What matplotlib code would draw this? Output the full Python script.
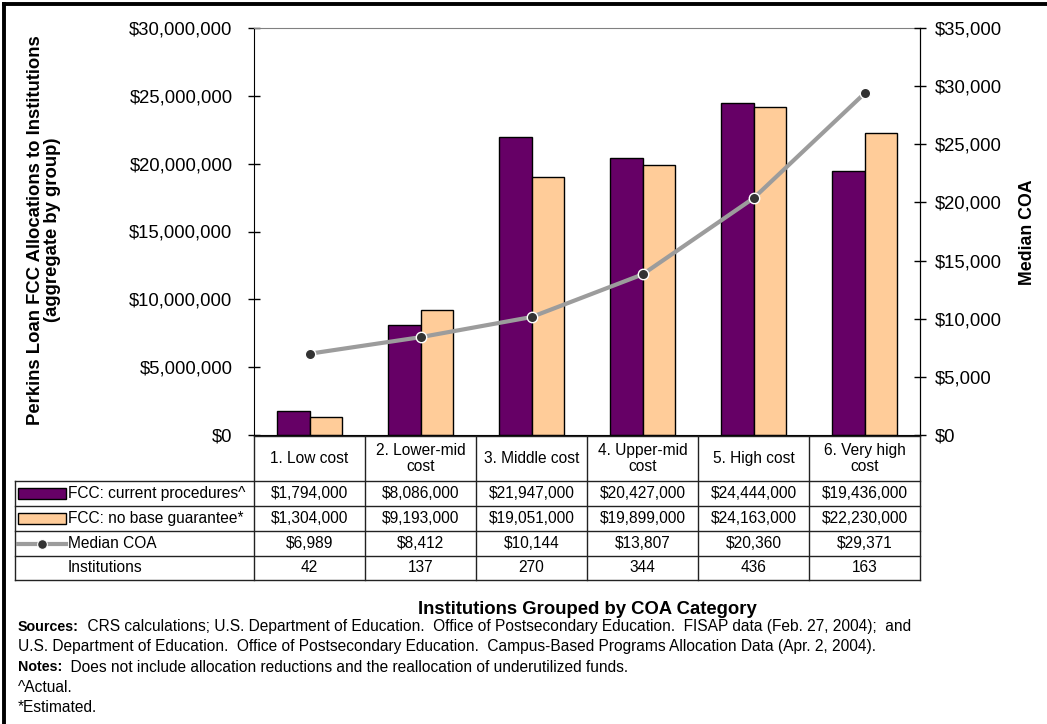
import numpy as np
import matplotlib
matplotlib.use("Agg")
from matplotlib import pyplot as plt
from matplotlib.lines import Line2D
from matplotlib.patches import Rectangle
from matplotlib.ticker import FuncFormatter

plt.rcParams['font.family'] = ['Liberation Sans', 'DejaVu Sans']

categories = ["1. Low cost", "2. Lower-mid\ncost", "3. Middle cost",
              "4. Upper-mid\ncost", "5. High cost", "6. Very high\ncost"]
fcc_current = [1794000, 8086000, 21947000, 20427000, 24444000, 19436000]
fcc_no_base = [1304000, 9193000, 19051000, 19899000, 24163000, 22230000]
median_coa = [6989, 8412, 10144, 13807, 20360, 29371]
institutions = [42, 137, 270, 344, 436, 163]

series_names = ["FCC: current procedures^", "FCC: no base guarantee*", "Median COA", "Institutions"]

PURPLE = '#660066'
PEACH = '#FFCC99'
LINE_GRAY = '#9c9c9c'
DOT = '#333333'

W, H = 1047, 724
fig = plt.figure(figsize=(W / 100, H / 100), dpi=100)


def box(x0, y0, x1, y1):
    # pixel box measured from the top-left corner -> figure fraction rect
    return [x0 / W, 1 - y1 / H, (x1 - x0) / W, (y1 - y0) / H]


money = FuncFormatter(lambda v, p: f"${v:,.0f}")

# ---- main chart ----
ax = fig.add_axes(box(254, 28, 920, 435))
x = np.arange(len(categories))
bw = 0.295
ax.bar(x - bw / 2, fcc_current, bw, color=PURPLE, edgecolor='black', linewidth=1, zorder=2)
ax.bar(x + bw / 2, fcc_no_base, bw, color=PEACH, edgecolor='black', linewidth=1, zorder=2)
ax.set_xlim(-0.5, 5.5)
ax.set_ylim(0, 30e6)
ax.set_yticks(np.arange(0, 30e6 + 1, 5e6))
ax.yaxis.set_major_formatter(money)
ax.set_xticks([])
ax.tick_params(axis='y', direction='inout', length=9, width=1, pad=11, labelsize=13.3)
ax.spines['top'].set_color('#808080')
for s in ('left', 'bottom', 'right'):
    ax.spines[s].set_color('black')

ax2 = ax.twinx()
ax2.plot(x, median_coa, color=LINE_GRAY, linewidth=3, zorder=3)
ax2.plot(x, median_coa, linestyle='none', marker='o', markersize=7.5,
         markerfacecolor=DOT, markeredgecolor='white', markeredgewidth=1, zorder=4)
ax2.set_ylim(0, 35000)
ax2.set_yticks(np.arange(0, 35001, 5000))
ax2.yaxis.set_major_formatter(money)
ax2.tick_params(axis='y', direction='inout', length=9, width=1, pad=6.3, labelsize=13.3)
ax2.spines['top'].set_visible(False)
ax2.spines['left'].set_visible(False)
ax2.spines['bottom'].set_visible(False)
ax2.spines['right'].set_color('black')

fig.text(44 / W, 1 - 230 / H, "Perkins Loan FCC Allocations to Institutions\n(aggregate by group)",
         rotation=90, ha='center', va='center', fontsize=13.3, fontweight='bold', linespacing=1.05)
fig.text(1027 / W, 1 - 232 / H, "Median COA", rotation=90, ha='center', va='center',
         fontsize=12.8, fontweight='bold')

# ---- data table under the chart ----
tab = fig.add_axes(box(15, 436, 920, 581))
unit = (920 - 254) / len(categories)
left = -0.5 - (254 - 15) / unit
tab.set_xlim(left, 5.5)
tab.set_ylim(581, 436)
tab.axis('off')

row_edges = [436, 481, 506, 531, 556, 580]
lc = '#222222'
for i in range(len(categories) + 1):
    tab.plot([i - 0.5, i - 0.5], [436, 580], color=lc, lw=1, clip_on=False)
tab.plot([left, left], [481, 580], color=lc, lw=1, clip_on=False)
tab.plot([-0.5, 5.5], [436, 436], color=lc, lw=1, clip_on=False)
for y in row_edges[1:]:
    tab.plot([left, 5.5], [y, y], color=lc, lw=1, clip_on=False)

for i, c in enumerate(categories):
    tab.text(i, (436 + 481) / 2, c, ha='center', va='center', fontsize=11.2, linespacing=1.15)

rows = [
    [f"${v:,.0f}" for v in fcc_current],
    [f"${v:,.0f}" for v in fcc_no_base],
    [f"${v:,.0f}" for v in median_coa],
    [f"{v}" for v in institutions],
]
for r, vals in enumerate(rows):
    yc = (row_edges[r + 1] + row_edges[r + 2]) / 2
    for i, v in enumerate(vals):
        tab.text(i, yc, v, ha='center', va='center', fontsize=11.2)
    tab.text(left + 53 / unit, yc, series_names[r], ha='left', va='center', fontsize=11.2)

# legend keys in the label column
kx0 = left + 3 / unit
kw = 48 / unit
for r, col in enumerate([PURPLE, PEACH]):
    yc = (row_edges[r + 1] + row_edges[r + 2]) / 2
    tab.add_patch(Rectangle((kx0, yc - 5.5), kw, 11, facecolor=col, edgecolor='black', lw=1))
yc = (row_edges[3] + row_edges[4]) / 2
tab.plot([kx0, kx0 + kw], [yc, yc], color=LINE_GRAY, lw=3)
tab.plot([kx0 + kw / 2], [yc], marker='o', markersize=7, markerfacecolor=DOT,
         markeredgecolor='white', markeredgewidth=0.8)

# ---- axis title and notes ----
fig.text(587 / W, 1 - 609 / H, "Institutions Grouped by COA Category",
         ha='center', va='center', fontsize=13.3, fontweight='bold')

notes = [
    ("Sources:", "  CRS calculations; U.S. Department of Education.  Office of Postsecondary Education.  FISAP data (Feb. 27, 2004);  and"),
    ("", "U.S. Department of Education.  Office of Postsecondary Education.  Campus-Based Programs Allocation Data (Apr. 2, 2004)."),
    ("Notes:", "  Does not include allocation reductions and the reallocation of underutilized funds."),
    ("", "^Actual."),
    ("", "*Estimated."),
]
renderer = fig.canvas.get_renderer()
for k, (head, body) in enumerate(notes):
    ty = 1 - (627 + 20 * k) / H
    tx = 18 / W
    if head:
        t = fig.text(tx, ty, head, ha='left', va='center', fontsize=10.3, fontweight='bold')
        bb = t.get_window_extent(renderer)
        tx = bb.x1 / W
    fig.text(tx, ty, body, ha='left', va='center', fontsize=11.2)

# outer frame (left and top edges)
fig.add_artist(Line2D([3.5 / W, 3.5 / W], [0, 1 - 3.5 / H], color='black', lw=2.8))
fig.add_artist(Line2D([3.5 / W, 1], [1 - 3.5 / H, 1 - 3.5 / H], color='black', lw=2.8))

fig.savefig("out.png", dpi=100)
